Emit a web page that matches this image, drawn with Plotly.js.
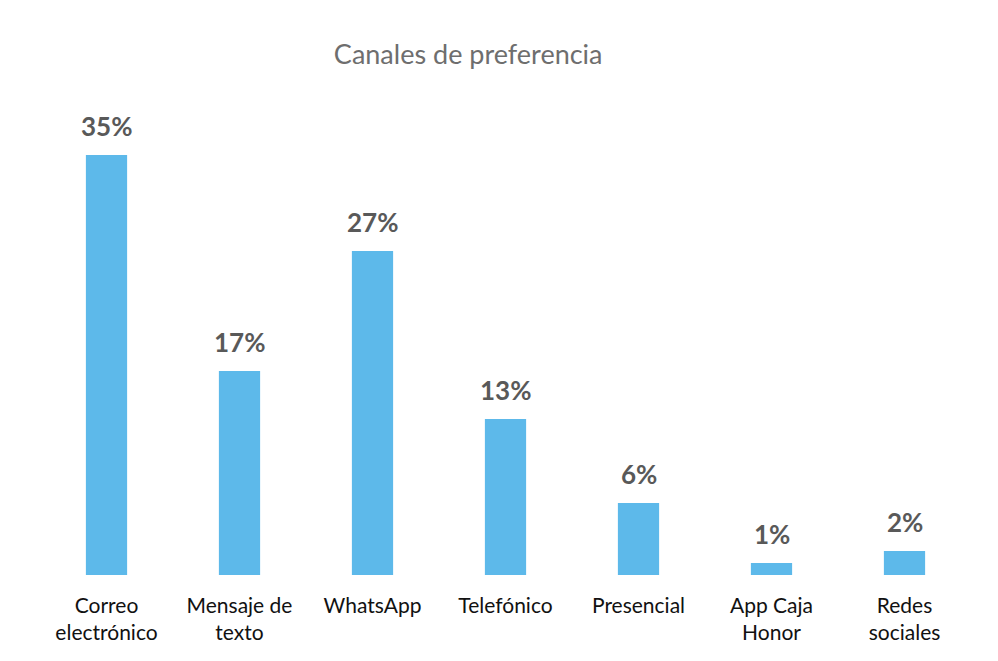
<!DOCTYPE html>
<html>
<head>
<meta charset="utf-8">
<script src="https://cdn.plot.ly/plotly-3.0.1.min.js"></script>
<style>html,body{margin:0;padding:0;background:#fff;}#chart{width:998px;height:661px;}</style>
</head>
<body>
<div id="chart"></div>
<script>
const categories = ["Correo<br>electrónico", "Mensaje de<br>texto", "WhatsApp", "Telefónico", "Presencial", "App Caja<br>Honor", "Redes<br>sociales"];
const values = [35, 17, 27, 13, 6, 1, 2];
const labels = values.map(v => v + "%");

const FONT = "Lato, 'Open Sans', sans-serif";

const trace = {
  type: "bar",
  x: categories,
  y: values,
  cliponaxis: false,
  marker: {color: "#5DB9EA"},
  width: 0.31,
  hoverinfo: "skip"
};

const annotations = categories.map((c, i) => ({
  x: c, y: values[i], xref: "x", yref: "y",
  text: labels[i], showarrow: false,
  yanchor: "bottom", yshift: 11,
  font: {family: FONT, size: 26, color: "#595959", weight: "bold"}
}));

const layout = {
  width: 998, height: 661,
  paper_bgcolor: "#ffffff",
  plot_bgcolor: "#ffffff",
  margin: {l: 40, r: 27, t: 155, b: 86},
  showlegend: false,
  title: {
    text: "Canales de preferencia",
    font: {family: FONT, size: 27, color: "#6e6e6e"},
    x: 459/998, xref: "paper", xanchor: "center",
    y: 1 - 55/661, yref: "container", yanchor: "middle"
  },
  xaxis: {
    showgrid: false, zeroline: false, showline: false, ticks: "",
    tickfont: {family: FONT, size: 21, color: "#111111"},
    ticklabelstandoff: 16
  },
  yaxis: {
    range: [0, 35], visible: false, showgrid: false, zeroline: false
  },
  annotations: annotations
};

Plotly.newPlot("chart", [trace], layout, {displayModeBar: false, staticPlot: true});
</script>
</body>
</html>
